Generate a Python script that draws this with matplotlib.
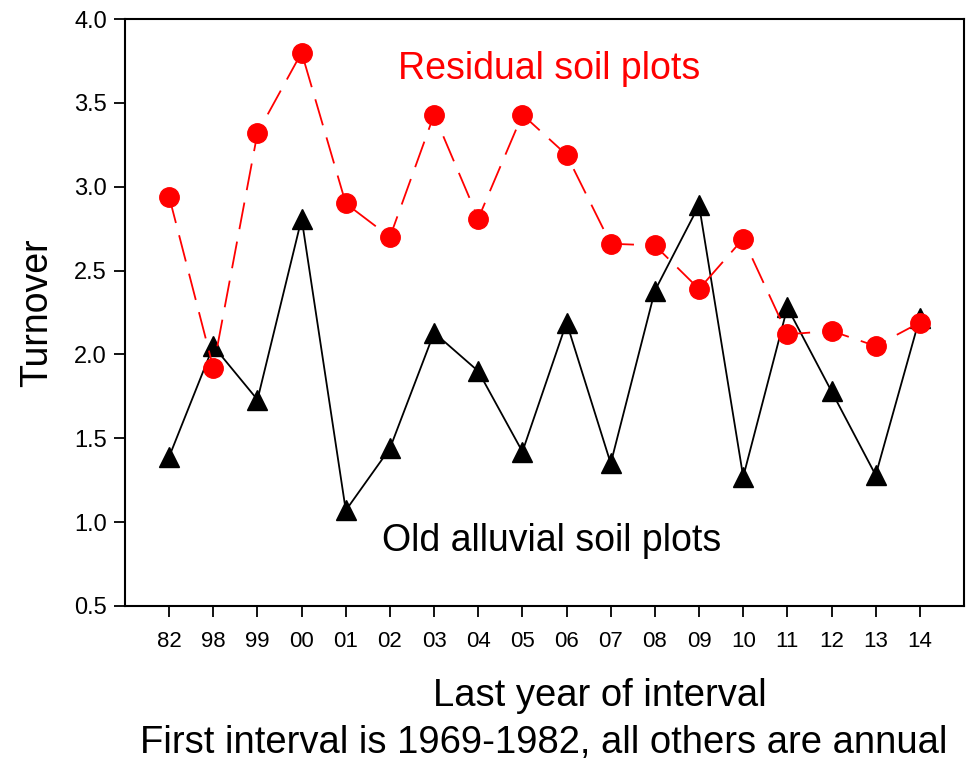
import matplotlib.pyplot as plt
import numpy as np

plt.rcParams['font.family'] = ['Liberation Sans', 'DejaVu Sans']

# Year labels (last year of interval)
years = ["82", "98", "99", "00", "01", "02", "03", "04", "05", "06",
         "07", "08", "09", "10", "11", "12", "13", "14"]

# Turnover values
residual = [2.94, 1.92, 3.32, 3.80, 2.90, 2.70, 3.43, 2.81, 3.43, 3.19,
            2.66, 2.65, 2.39, 2.69, 2.12, 2.14, 2.05, 2.19]
alluvial = [1.39, 2.05, 1.73, 2.81, 1.07, 1.44, 2.13, 1.90, 1.42, 2.19,
            1.35, 2.38, 2.89, 1.27, 2.28, 1.78, 1.28, 2.22]

x = np.arange(len(years))

fig = plt.figure(figsize=(9.67, 7.61), dpi=100)
ax = fig.add_axes([125 / 967, 1 - 606 / 761, (964 - 125) / 967, (606 - 19) / 761])

ax.plot(x, alluvial, color='black', linewidth=1.3, marker='^',
        markersize=15, markerfacecolor='black', markeredgecolor='black', zorder=2)
ax.plot(x, residual, color='red', linewidth=1.3, linestyle=(0, (15, 7)),
        marker='o', markersize=14, markerfacecolor='red', markeredgecolor='red', zorder=3)

ax.set_xlim(-1, 18)
ax.set_ylim(0.5, 4.0)
ax.set_xticks(x)
ax.set_xticklabels(years)
ax.set_yticks(np.arange(0.5, 4.01, 0.5))
ax.set_yticklabels([f"{v:.1f}" for v in np.arange(0.5, 4.01, 0.5)])
ax.tick_params(axis='y', direction='out', length=8, width=1.3, labelsize=17, pad=5)
ax.tick_params(axis='x', direction='out', length=8, width=1.3, labelsize=16, pad=10)
for s in ax.spines.values():
    s.set_linewidth(1.5)

ax.set_ylabel("Turnover", fontsize=27, labelpad=14)

ax.text(0.506, 0.915, "Residual soil plots", transform=ax.transAxes,
        color='red', fontsize=27, ha='center', va='center')
ax.text(0.509, 0.11, "Old alluvial soil plots", transform=ax.transAxes,
        color='black', fontsize=27, ha='center', va='center')

fig.text(600 / 967, 1 - 696 / 761, "Last year of interval", fontsize=27.5,
         ha='center', va='center')
fig.text(544 / 967, 1 - 743 / 761, "First interval is 1969-1982, all others are annual",
         fontsize=27.5, ha='center', va='center')

fig.savefig("out.png", dpi=100)
